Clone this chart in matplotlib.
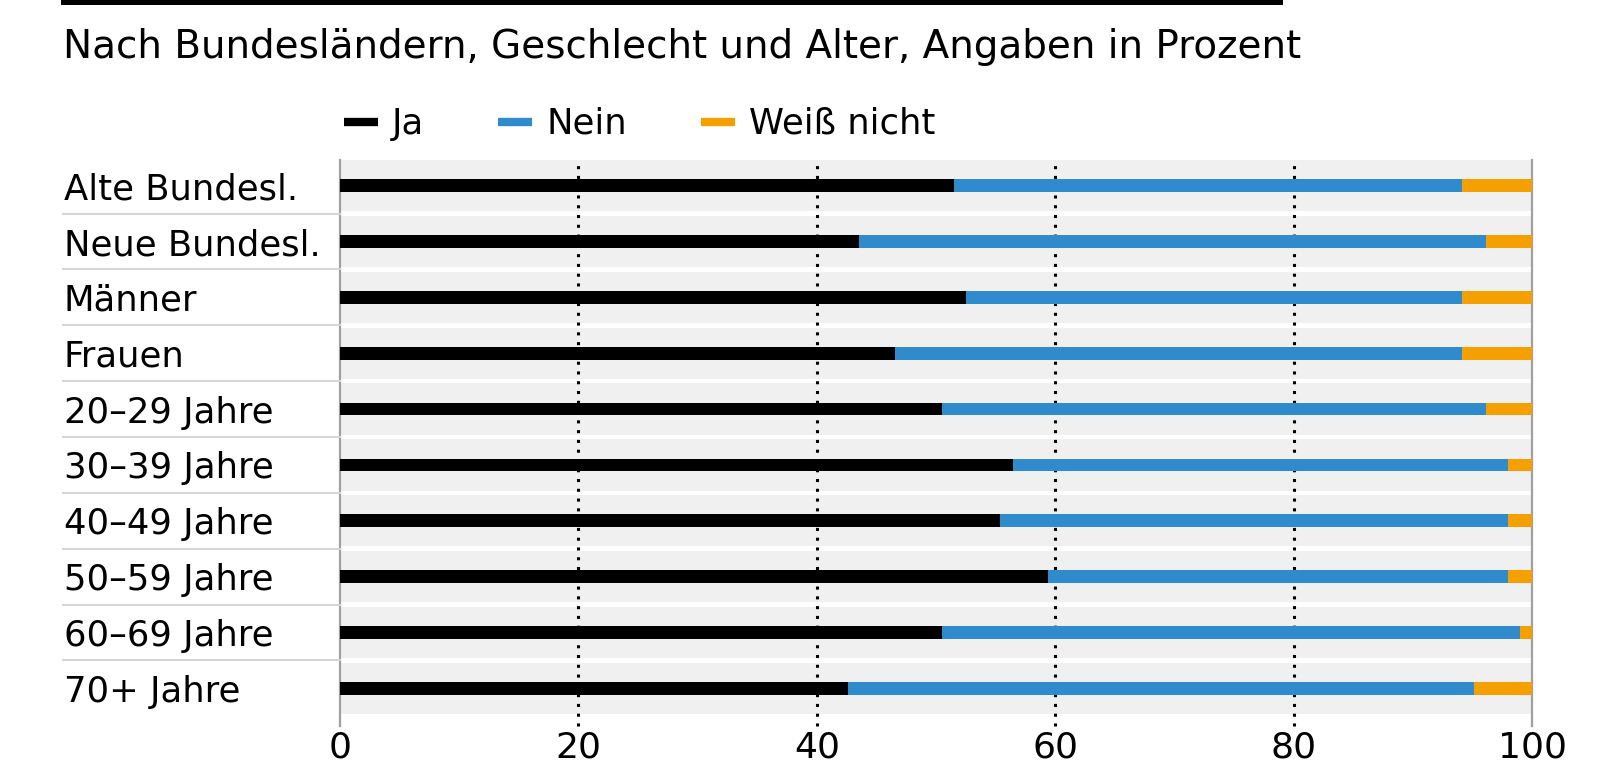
import matplotlib
matplotlib.use("Agg")
import matplotlib.pyplot as plt
import matplotlib.transforms as mtransforms
from matplotlib.lines import Line2D
import numpy as np

# data (Angaben in Prozent)
categories = ["Alte Bundesl.", "Neue Bundesl.", "Männer", "Frauen",
              "20–29 Jahre", "30–39 Jahre", "40–49 Jahre", "50–59 Jahre",
              "60–69 Jahre", "70+ Jahre"]
ja = [51.5, 43.5, 52.5, 46.6, 50.5, 56.5, 55.4, 59.4, 50.5, 42.6]
nein = [42.6, 52.6, 41.6, 47.5, 45.6, 41.5, 42.6, 38.6, 48.5, 52.5]
weiss_nicht = [5.9, 3.9, 5.9, 5.9, 3.9, 2.0, 2.0, 2.0, 1.0, 4.9]
series_names = ["Ja", "Nein", "Weiß nicht"]
xticks = [0, 20, 40, 60, 80, 100]

colors = ["#000000", "#2f8bcc", "#f4a000"]
font = "DejaVu Sans"

W, H = 1600, 765
fig = plt.figure(figsize=(W / 100, H / 100), dpi=100)
ax = fig.add_axes([340 / W, 1 - 714 / H, 1192 / W, 554 / H])

n = len(categories)
y = np.arange(n)

# grey row bands
for i in range(n):
    ax.axhspan(i - 0.46, i + 0.46, color="#f0f0f0", lw=0, zorder=0)

# grid lines
for xv in xticks:
    if xv in (0, 100):
        ax.axvline(xv, ymin=-0.022, ymax=1, color="#a0a0a0", lw=1.6, clip_on=False, zorder=1)
    else:
        ax.axvline(xv, ymin=-0.022, ymax=1, color="black", lw=2.2,
                   ls=(0, (1, 2.2)), clip_on=False, zorder=1)

# stacked bars
left = np.zeros(n)
for vals, col, name in zip([ja, nein, weiss_nicht], colors, series_names):
    ax.barh(y, vals, left=left, height=0.23, color=col, lw=0, zorder=2, label=name)
    left += np.array(vals)

ax.set_xlim(0, 100)
ax.set_ylim(n - 1 + 0.46, -0.46)
for s in ax.spines.values():
    s.set_visible(False)

ax.set_yticks(y)
ax.set_yticklabels(categories, ha="left", fontsize=25.5, family=font)
ax.tick_params(axis="y", length=0, pad=199)
ax.set_xticks(xticks)
ax.set_xticklabels([str(v) for v in xticks], fontsize=26, family=font)
ax.tick_params(axis="x", length=0, pad=12)

# separator lines in the label column
trans = mtransforms.blended_transform_factory(fig.transFigure, ax.transData)
for i in range(n - 1):
    ax.add_line(Line2D([63 / W, 340 / W], [i + 0.5, i + 0.5], transform=trans,
                       color="#d5d5d5", lw=1.5, clip_on=False))

# top black rule and subtitle
fig.add_artist(plt.Rectangle((61 / W, 1 - 5 / H), 1222 / W, 5 / H,
                             transform=fig.transFigure, color="black", lw=0))
fig.text(63 / W, 1 - 58 / H, "Nach Bundesländern, Geschlecht und Alter, Angaben in Prozent",
         fontsize=28, family=font, va="baseline", ha="left")

# legend
handles = [Line2D([0], [0], color=c, lw=6, solid_capstyle="butt") for c in colors]
fig.legend(handles, series_names, loc="center left", bbox_to_anchor=(344 / W, 1 - 124 / H),
           ncol=3, frameon=False, borderpad=0, borderaxespad=0, handlelength=0.95,
           handletextpad=0.4, columnspacing=2.1,
           prop={"family": font, "size": 25.5})

fig.savefig("out.png", dpi=100)
